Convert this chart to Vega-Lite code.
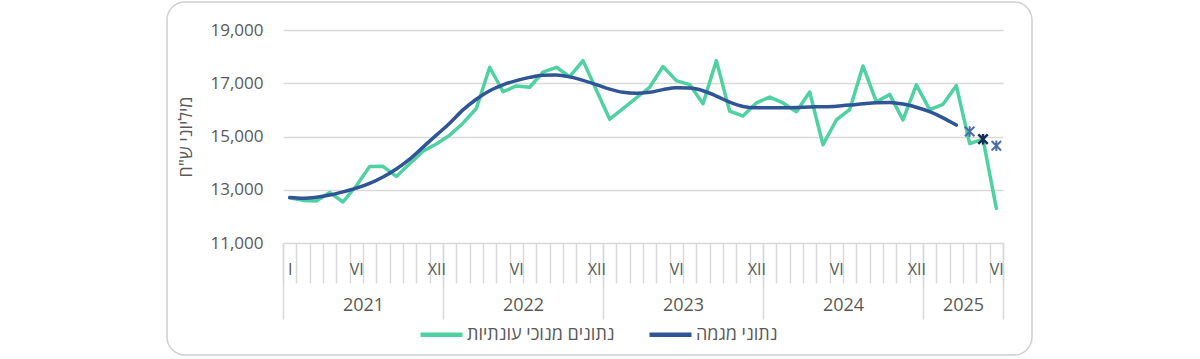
{
  "$schema": "https://vega.github.io/schema/vega-lite/v6.json",
  "width": 865,
  "height": 353,
  "autosize": {"type": "none"},
  "padding": {"left": 167, "top": 2, "right": 168, "bottom": 4},
  "background": "white",
  "config": {
    "view": {"stroke": "#d0d0d0", "strokeWidth": 1.5, "cornerRadius": 18},
    "font": "Open Sans",
    "axis": {"labelColor": "#595959", "titleColor": "#595959", "labelFont": "Open Sans", "titleFont": "Open Sans"},
    "legend": {"labelFont": "Open Sans"}
  },
  "datasets": {
    "lines": [
      {"m": 1, "series": "נתונים מנוכי עונתיות", "v": 12700},
      {"m": 2, "series": "נתונים מנוכי עונתיות", "v": 12600},
      {"m": 3, "series": "נתונים מנוכי עונתיות", "v": 12580},
      {"m": 4, "series": "נתונים מנוכי עונתיות", "v": 12900},
      {"m": 5, "series": "נתונים מנוכי עונתיות", "v": 12540},
      {"m": 6, "series": "נתונים מנוכי עונתיות", "v": 13150},
      {"m": 7, "series": "נתונים מנוכי עונתיות", "v": 13870},
      {"m": 8, "series": "נתונים מנוכי עונתיות", "v": 13880},
      {"m": 9, "series": "נתונים מנוכי עונתיות", "v": 13500},
      {"m": 10, "series": "נתונים מנוכי עונתיות", "v": 13980},
      {"m": 11, "series": "נתונים מנוכי עונתיות", "v": 14450},
      {"m": 12, "series": "נתונים מנוכי עונתיות", "v": 14720},
      {"m": 13, "series": "נתונים מנוכי עונתיות", "v": 15050},
      {"m": 14, "series": "נתונים מנוכי עונתיות", "v": 15500},
      {"m": 15, "series": "נתונים מנוכי עונתיות", "v": 16050},
      {"m": 16, "series": "נתונים מנוכי עונתיות", "v": 17600},
      {"m": 17, "series": "נתונים מנוכי עונתיות", "v": 16680},
      {"m": 18, "series": "נתונים מנוכי עונתיות", "v": 16900},
      {"m": 19, "series": "נתונים מנוכי עונתיות", "v": 16850},
      {"m": 20, "series": "נתונים מנוכי עונתיות", "v": 17420},
      {"m": 21, "series": "נתונים מנוכי עונתיות", "v": 17600},
      {"m": 22, "series": "נתונים מנוכי עונתיות", "v": 17250},
      {"m": 23, "series": "נתונים מנוכי עונתיות", "v": 17850},
      {"m": 24, "series": "נתונים מנוכי עונתיות", "v": 16750},
      {"m": 25, "series": "נתונים מנוכי עונתיות", "v": 15650},
      {"m": 26, "series": "נתונים מנוכי עונתיות", "v": 16050},
      {"m": 27, "series": "נתונים מנוכי עונתיות", "v": 16450},
      {"m": 28, "series": "נתונים מנוכי עונתיות", "v": 16850},
      {"m": 29, "series": "נתונים מנוכי עונתיות", "v": 17630},
      {"m": 30, "series": "נתונים מנוכי עונתיות", "v": 17100},
      {"m": 31, "series": "נתונים מנוכי עונתיות", "v": 16950},
      {"m": 32, "series": "נתונים מנוכי עונתיות", "v": 16230},
      {"m": 33, "series": "נתונים מנוכי עונתיות", "v": 17850},
      {"m": 34, "series": "נתונים מנוכי עונתיות", "v": 15950},
      {"m": 35, "series": "נתונים מנוכי עונתיות", "v": 15770},
      {"m": 36, "series": "נתונים מנוכי עונתיות", "v": 16260},
      {"m": 37, "series": "נתונים מנוכי עונתיות", "v": 16480},
      {"m": 38, "series": "נתונים מנוכי עונתיות", "v": 16260},
      {"m": 39, "series": "נתונים מנוכי עונתיות", "v": 15930},
      {"m": 40, "series": "נתונים מנוכי עונתיות", "v": 16670},
      {"m": 41, "series": "נתונים מנוכי עונתיות", "v": 14690},
      {"m": 42, "series": "נתונים מנוכי עונתיות", "v": 15620},
      {"m": 43, "series": "נתונים מנוכי עונתיות", "v": 16010},
      {"m": 44, "series": "נתונים מנוכי עונתיות", "v": 17650},
      {"m": 45, "series": "נתונים מנוכי עונתיות", "v": 16300},
      {"m": 46, "series": "נתונים מנוכי עונתיות", "v": 16580},
      {"m": 47, "series": "נתונים מנוכי עונתיות", "v": 15620},
      {"m": 48, "series": "נתונים מנוכי עונתיות", "v": 16940},
      {"m": 49, "series": "נתונים מנוכי עונתיות", "v": 16010},
      {"m": 50, "series": "נתונים מנוכי עונתיות", "v": 16210},
      {"m": 51, "series": "נתונים מנוכי עונתיות", "v": 16910},
      {"m": 52, "series": "נתונים מנוכי עונתיות", "v": 14730},
      {"m": 53, "series": "נתונים מנוכי עונתיות", "v": 14900},
      {"m": 54, "series": "נתונים מנוכי עונתיות", "v": 12300},
      {"m": 1, "series": "נתוני מגמה", "v": 12710},
      {"m": 2, "series": "נתוני מגמה", "v": 12680},
      {"m": 3, "series": "נתוני מגמה", "v": 12720},
      {"m": 4, "series": "נתוני מגמה", "v": 12800},
      {"m": 5, "series": "נתוני מגמה", "v": 12920},
      {"m": 6, "series": "נתוני מגמה", "v": 13060},
      {"m": 7, "series": "נתוני מגמה", "v": 13240},
      {"m": 8, "series": "נתוני מגמה", "v": 13480},
      {"m": 9, "series": "נתוני מגמה", "v": 13780},
      {"m": 10, "series": "נתוני מגמה", "v": 14150},
      {"m": 11, "series": "נתוני מגמה", "v": 14600},
      {"m": 12, "series": "נתוני מגמה", "v": 15050},
      {"m": 13, "series": "נתוני מגמה", "v": 15500},
      {"m": 14, "series": "נתוני מגמה", "v": 16000},
      {"m": 15, "series": "נתוני מגמה", "v": 16400},
      {"m": 16, "series": "נתוני מגמה", "v": 16720},
      {"m": 17, "series": "נתוני מגמה", "v": 16940},
      {"m": 18, "series": "נתוני מגמה", "v": 17100},
      {"m": 19, "series": "נתוני מגמה", "v": 17220},
      {"m": 20, "series": "נתוני מגמה", "v": 17300},
      {"m": 21, "series": "נתוני מגמה", "v": 17310},
      {"m": 22, "series": "נתוני מגמה", "v": 17240},
      {"m": 23, "series": "נתוני מגמה", "v": 17110},
      {"m": 24, "series": "נתוני מגמה", "v": 16950},
      {"m": 25, "series": "נתוני מגמה", "v": 16780},
      {"m": 26, "series": "נתוני מגמה", "v": 16660},
      {"m": 27, "series": "נתוני מגמה", "v": 16620},
      {"m": 28, "series": "נתוני מגמה", "v": 16660},
      {"m": 29, "series": "נתוני מגמה", "v": 16760},
      {"m": 30, "series": "נתוני מגמה", "v": 16830},
      {"m": 31, "series": "נתוני מגמה", "v": 16820},
      {"m": 32, "series": "נתוני מגמה", "v": 16720},
      {"m": 33, "series": "נתוני מגמה", "v": 16520},
      {"m": 34, "series": "נתוני מגמה", "v": 16290},
      {"m": 35, "series": "נתוני מגמה", "v": 16130},
      {"m": 36, "series": "נתוני מגמה", "v": 16080},
      {"m": 37, "series": "נתוני מגמה", "v": 16080},
      {"m": 38, "series": "נתוני מגמה", "v": 16080},
      {"m": 39, "series": "נתוני מגמה", "v": 16090},
      {"m": 40, "series": "נתוני מגמה", "v": 16110},
      {"m": 41, "series": "נתוני מגמה", "v": 16120},
      {"m": 42, "series": "נתוני מגמה", "v": 16140},
      {"m": 43, "series": "נתוני מגמה", "v": 16180},
      {"m": 44, "series": "נתוני מגמה", "v": 16230},
      {"m": 45, "series": "נתוני מגמה", "v": 16270},
      {"m": 46, "series": "נתוני מגמה", "v": 16280},
      {"m": 47, "series": "נתוני מגמה", "v": 16220},
      {"m": 48, "series": "נתוני מגמה", "v": 16100},
      {"m": 49, "series": "נתוני מגמה", "v": 15930},
      {"m": 50, "series": "נתוני מגמה", "v": 15700},
      {"m": 51, "series": "נתוני מגמה", "v": 15430}
    ],
    "stars": [
      {"m": 52, "v": 15190, "tone": "light"},
      {"m": 53, "v": 14900, "tone": "dark"},
      {"m": 54, "v": 14650, "tone": "light"}
    ]
  },
  "layer": [
    {
      "data": {"name": "lines"},
      "transform": [{"filter": "datum.series == 'נתונים מנוכי עונתיות'"}],
      "mark": {"type": "line", "strokeWidth": 3.5, "strokeCap": "round", "strokeJoin": "round", "interpolate": "linear"},
      "encoding": {
        "x": {
          "field": "m", "type": "quantitative",
          "scale": {"domain": [0.5, 54.5], "nice": false, "zero": false, "range": [116, 836]},
          "axis": {
            "orient": "bottom", "offset": -112, "title": null, "grid": false, "domain": false, "labels": false,
            "ticks": true, "tickSize": 40, "tickColor": "#d9d9d9", "tickWidth": 1.5, "zindex": 0,
            "values": [0.5,1.5,2.5,3.5,4.5,5.5,6.5,7.5,8.5,9.5,10.5,11.5,12.5,13.5,14.5,15.5,16.5,17.5,18.5,19.5,20.5,21.5,22.5,23.5,24.5,25.5,26.5,27.5,28.5,29.5,30.5,31.5,32.5,33.5,34.5,35.5,36.5,37.5,38.5,39.5,40.5,41.5,42.5,43.5,44.5,45.5,46.5,47.5,48.5,49.5,50.5,51.5,52.5,53.5,54.5]
          }
        },
        "y": {
          "field": "v", "type": "quantitative",
          "scale": {"domain": [11000, 19000], "nice": false, "zero": false, "range": [241, 28]},
          "axis": {
            "offset": -116,
            "title": "מיליוני ש\"ח", "titleFontSize": 18, "titleFontWeight": "normal", "titlePadding": 14,
            "values": [11000, 13000, 15000, 17000, 19000], "format": ",d",
            "labelFontSize": 17, "labelPadding": 20, "domain": false, "ticks": false,
            "grid": true, "gridColor": "#d9d9d9", "gridWidth": 1.5
          }
        },
        "color": {
          "field": "series", "type": "nominal",
          "scale": {"domain": ["נתונים מנוכי עונתיות", "נתוני מגמה"], "range": ["#4fd1a1", "#2f5597"]},
          "legend": {
            "orient": "none", "legendX": 251, "legendY": 309, "direction": "horizontal", "title": null,
            "symbolType": "stroke", "symbolSize": 1764, "symbolStrokeWidth": 4.5,
            "labelFontSize": 18, "labelColor": "#595959", "columnPadding": 25, "labelOffset": 2
          }
        }
      }
    },
    {
      "data": {"name": "lines"},
      "transform": [{"filter": "datum.series == 'נתוני מגמה'"}],
      "mark": {"type": "line", "strokeWidth": 3.5, "strokeCap": "round", "interpolate": "monotone"},
      "encoding": {
        "x": {
          "field": "m", "type": "quantitative",
          "axis": {
            "orient": "bottom", "offset": -112, "title": null, "grid": false, "domain": false, "ticks": false, "tickSize": 0,
            "values": [1, 6, 12, 18, 24, 30, 36, 42, 48, 54], "zindex": 2,
            "labelExpr": "datum.value == 1 ? 'I' : (datum.value % 12 == 6 ? 'VI' : 'XII')",
            "labelFontSize": 16, "labelPadding": 18, "labelColor": "#595959", "labelOverlap": false
          }
        },
        "y": {"field": "v", "type": "quantitative"},
        "color": {"field": "series", "type": "nominal"}
      }
    },
    {
      "data": {"name": "stars"},
      "transform": [{"filter": "datum.tone == 'light'"}],
      "mark": {"type": "point", "shape": "M-1,-1L1,1M-1,1L1,-1M0,-1.1L0,1.1", "filled": false, "size": 90, "strokeWidth": 2, "color": "#4a6fa8", "opacity": 1},
      "encoding": {
        "x": {
          "field": "m", "type": "quantitative",
          "axis": {
            "orient": "bottom", "offset": -112, "title": null, "grid": false, "domain": false, "ticks": false, "tickSize": 0,
            "values": [6.5, 18.5, 30.5, 42.5, 51.5], "zindex": 2,
            "labelExpr": "datum.value < 12 ? '2021' : datum.value < 24 ? '2022' : datum.value < 36 ? '2023' : datum.value < 48 ? '2024' : '2025'",
            "labelFontSize": 18, "labelPadding": 53, "labelColor": "#595959"
          }
        },
        "y": {"field": "v", "type": "quantitative"}
      }
    },
    {
      "data": {"name": "stars"},
      "transform": [{"filter": "datum.tone == 'dark'"}],
      "mark": {"type": "point", "shape": "M-1,-1L1,1M-1,1L1,-1M0,-1.1L0,1.1", "filled": false, "size": 90, "strokeWidth": 2.5, "color": "#1a2d5a", "opacity": 1},
      "encoding": {
        "x": {
          "field": "m", "type": "quantitative",
          "axis": {
            "orient": "bottom", "offset": -112, "title": null, "grid": false, "domain": false, "labels": false,
            "ticks": true, "tickSize": 76, "tickColor": "#d9d9d9", "tickWidth": 1.5, "zindex": 0,
            "values": [0.5, 12.5, 24.5, 36.5, 48.5, 54.5]
          }
        },
        "y": {"field": "v", "type": "quantitative"}
      }
    }
  ],
  "resolve": {"axis": {"x": "independent"}}
}
